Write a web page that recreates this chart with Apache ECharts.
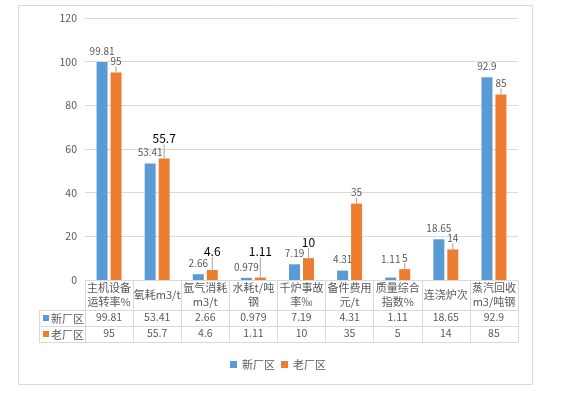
<!DOCTYPE html>
<html>
<head>
<meta charset="utf-8">
<script src="https://cdn.jsdelivr.net/npm/echarts@6/dist/echarts.min.js"></script>
<style>
  html, body { margin: 0; padding: 0; background: #fff; }
  #main { width: 565px; height: 399px; }
</style>
</head>
<body>
<div id="main"></div>
<script>
// 指标名称
const categories = ['主机设备\n运转率%', '氧耗m3/t', '氩气消耗\nm3/t', '水耗t/吨\n钢', '千炉事故\n率‰',
  '备件费用\n元/t', '质量综合\n指数%', '连浇炉次', '蒸汽回收\nm3/吨钢'];
const seriesNames = ['新厂区', '老厂区'];
const newVals = [99.81, 53.41, 2.66, 0.979, 7.19, 4.31, 1.11, 18.65, 92.9];
const oldVals = [95, 55.7, 4.6, 1.11, 10, 35, 5, 14, 85];
const yTicks = [0, 20, 40, 60, 80, 100, 120];

const colors = ['#5B9BD5', '#ED7D31'];
const font = '"Noto Sans CJK SC", "Noto Sans", sans-serif';
const grey = '#595959';
const lineGrey = '#d9d9d9';

// 标签被手动挪过的点 (Excel 里拖动过的)
const newShift = {6: -7};
const oldShift = {1: -8, 2: -7, 3: -14, 4: -4};
const bigOld = [1, 2, 3, 4];

const chart = echarts.init(document.getElementById('main'));

function tableAxis(vals, margin) {
  return {
    type: 'category',
    gridIndex: 0,
    position: 'bottom',
    data: vals.map(v => String(v)),
    axisLine: {show: false},
    axisTick: {show: false},
    axisLabel: {interval: 0, margin: margin, fontSize: 10.5, color: grey, fontFamily: font}
  };
}

chart.setOption({
  animation: false,
  color: colors,
  grid: {left: 85, right: 47, top: 18, bottom: 119},
  legend: {
    data: seriesNames,
    left: 230, top: 359,
    icon: 'rect', itemWidth: 7, itemHeight: 7, itemGap: 6, padding: 0,
    textStyle: {fontSize: 11, color: grey, fontFamily: font}
  },
  xAxis: [
    {
      type: 'category',
      data: categories,
      axisLine: {lineStyle: {color: lineGrey}},
      axisTick: {show: true, length: 62, lineStyle: {color: lineGrey}},
      axisLabel: {interval: 0, margin: 15, verticalAlign: 'middle', fontSize: 11, lineHeight: 14,
        color: grey, fontFamily: font}
    },
    tableAxis(newVals, 32),
    tableAxis(oldVals, 48)
  ],
  yAxis: {
    type: 'value',
    min: yTicks[0], max: yTicks[yTicks.length - 1], interval: 20,
    axisLine: {show: false},
    axisTick: {show: false},
    axisLabel: {margin: 8, fontSize: 10.5, color: grey, fontFamily: font},
    splitLine: {lineStyle: {color: lineGrey}}
  },
  series: [
    {
      name: seriesNames[0],
      type: 'bar',
      barWidth: 11,
      barGap: '27%',
      data: newVals,
      label: {show: true, position: 'top', distance: 6, fontSize: 10, color: grey, fontFamily: font},
      labelLine: {show: false},
      labelLayout: p => newShift[p.dataIndex] ? {dy: newShift[p.dataIndex]} : {}
    },
    {
      name: seriesNames[1],
      type: 'bar',
      barWidth: 11,
      data: oldVals.map((v, i) => bigOld.includes(i)
        ? {value: v, label: {fontSize: 12, color: '#000'}} : v),
      label: {show: true, position: 'top', distance: 6, fontSize: 10, color: grey, fontFamily: font},
      labelLine: {show: true, lineStyle: {color: '#a6a6a6', width: 1}},
      labelLayout: p => oldShift[p.dataIndex] ? {dy: oldShift[p.dataIndex]} : {}
    }
  ],
  graphic: [
    // 外框
    {type: 'rect', shape: {x: 18.5, y: 5.5, width: 514, height: 379},
      style: {fill: null, stroke: lineGrey, lineWidth: 1}, silent: true},
    // 数据表横线
    ...[310.5, 326.5, 342.5].map(y => ({type: 'line', shape: {x1: 39, y1: y, x2: 518, y2: y},
      style: {stroke: lineGrey, lineWidth: 1}, silent: true})),
    {type: 'line', shape: {x1: 39.5, y1: 310, x2: 39.5, y2: 343},
      style: {stroke: lineGrey, lineWidth: 1}, silent: true},
    // 表格左侧图例
    ...seriesNames.flatMap((n, i) => [
      {type: 'rect', shape: {x: 43, y: 315 + i * 16, width: 6, height: 6},
        style: {fill: colors[i]}, silent: true},
      {type: 'text', x: 51, y: 318.5 + i * 16,
        style: {text: n, fontSize: 11, fill: grey, fontFamily: font, verticalAlign: 'middle'}, silent: true}
    ])
  ]
});
</script>
</body>
</html>
